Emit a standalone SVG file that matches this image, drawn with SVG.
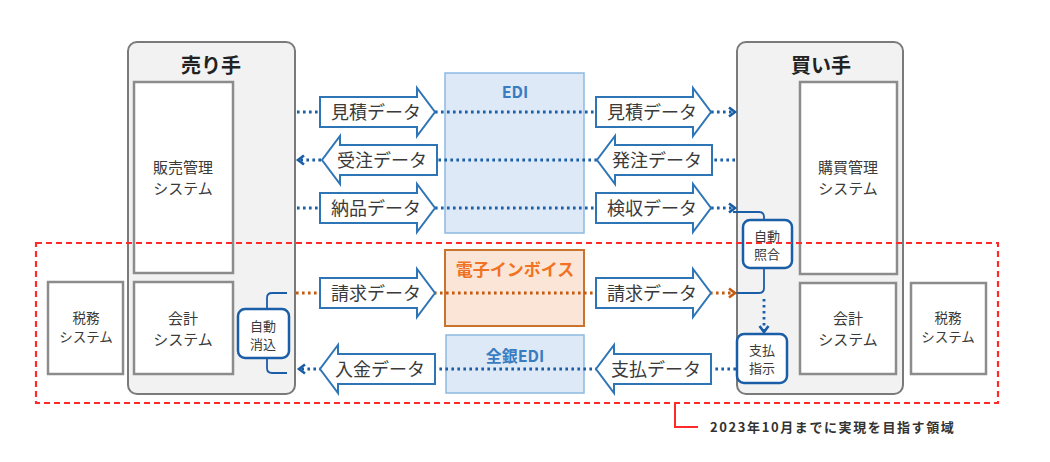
<svg xmlns="http://www.w3.org/2000/svg" xmlns:xlink="http://www.w3.org/1999/xlink" width="1050" height="462" viewBox="0 0 1050 462">
<style>
text{font-family:"Noto Sans CJK JP","Noto Sans",sans-serif;fill:#3a3a3a;text-anchor:middle}
.party{fill:#f2f2f2;stroke:#7a7a7a;stroke-width:2}
.sys{fill:#fff;stroke:#8c8c8c;stroke-width:2.5}
.title{font-size:20px;font-weight:bold;fill:#222}
.st{font-size:15px}
.sm{font-size:13.5px}
.au{font-size:13px}
.auto{fill:#fff;stroke:#1a5ea8;stroke-width:2.5}
.br{fill:none;stroke:#1a5ea8;stroke-width:1.8}
.blk{fill:#fff;stroke:#2e75b6;stroke-width:2}
.lbl{font-size:18px}
.dotb{fill:none;stroke:#1a5ea8;stroke-width:2.8;stroke-dasharray:2.6 3.4}
.doto{fill:none;stroke:#c55a11;stroke-width:2.8;stroke-dasharray:2.6 3.4}
.edi{fill:#dde9f6;stroke:#8db9e2;stroke-width:1.5}
.edit{font-size:16px;font-weight:bold;fill:#3a7cc2}
</style>
<defs>
<path id="ra" d="M0,-15 H97 V-24 L115,0 L97,24 V15 H0 Z"/>
<path id="la" d="M115,-15 H18 V-24 L0,0 L18,24 V15 H115 Z"/>
<marker id="mb" markerUnits="userSpaceOnUse" markerWidth="12" markerHeight="12" refX="8" refY="6" orient="auto">
<path d="M2,1.5 L8,6 L2,10.5" fill="none" stroke="#1a5ea8" stroke-width="2.6"/>
</marker>
<marker id="mo" markerUnits="userSpaceOnUse" markerWidth="12" markerHeight="12" refX="8" refY="6" orient="auto">
<path d="M2,1.5 L8,6 L2,10.5" fill="none" stroke="#c55a11" stroke-width="2.6"/>
</marker>
</defs>

<g id="seller">
<rect class="party" x="128" y="42" width="167" height="352" rx="9"/>
<text class="title" x="211" y="73">売り手</text>
</g>
<g id="sales-system">
<rect class="sys" x="134" y="82" width="99" height="191"/>
<text class="st" x="183" y="173">販売管理</text>
<text class="st" x="183" y="194">システム</text>
</g>
<g id="seller-accounting">
<rect class="sys" x="134" y="282" width="99" height="92"/>
<text class="st" x="183" y="324">会計</text>
<text class="st" x="183" y="345">システム</text>
</g>
<g id="seller-tax">
<rect class="sys" x="48" y="282" width="75" height="92"/>
<text class="sm" x="86" y="323">税務</text>
<text class="sm" x="86" y="342">システム</text>
</g>
<g id="auto-clear">
<path class="br" d="M287,293 H272 Q267,293 267,298 V309"/>
<path class="br" d="M287,373 H272 Q267,373 267,368 V358"/>
<rect class="auto" x="238" y="309" width="51" height="49" rx="7"/>
<text class="au" x="263" y="331">自動</text>
<text class="au" x="263" y="349">消込</text>
</g>

<g id="buyer">
<rect class="party" x="737" y="42" width="166" height="352" rx="9"/>
<text class="title" x="821" y="73">買い手</text>
</g>
<g id="purchase-system">
<rect class="sys" x="800" y="82" width="97" height="192"/>
<text class="st" x="848" y="173">購買管理</text>
<text class="st" x="848" y="194">システム</text>
</g>
<g id="buyer-accounting">
<rect class="sys" x="800" y="283" width="96" height="91"/>
<text class="st" x="848" y="324">会計</text>
<text class="st" x="848" y="345">システム</text>
</g>
<g id="buyer-tax">
<rect class="sys" x="911" y="283" width="75" height="91"/>
<text class="sm" x="948" y="323">税務</text>
<text class="sm" x="948" y="342">システム</text>
</g>
<g id="auto-match">
<path class="br" d="M733,212 H759 Q764,212 764,217 V220"/>
<path class="br" d="M733,293 H759 Q764,293 764,288 V268"/>
<rect class="auto" x="743" y="220" width="49" height="48" rx="7"/>
<text class="au" x="767" y="241">自動</text>
<text class="au" x="767" y="259">照合</text>
</g>
<g id="pay-instruction">
<rect class="auto" x="737" y="334" width="50" height="49" rx="7"/>
<text class="au" x="762" y="355">支払</text>
<text class="au" x="762" y="373">指示</text>
</g>

<g id="edi">
<rect class="edi" x="445" y="73" width="139" height="160"/>
<text class="edit" x="515" y="98">EDI</text>
</g>
<g id="e-invoice">
<rect x="445" y="250" width="139" height="76" fill="#fbe5d6" stroke="#c8732f" stroke-width="2"/>
<text x="515" y="276" style="font-size:17px;font-weight:bold;fill:#f07222">電子インボイス</text>
</g>
<g id="zengin-edi">
<rect class="edi" x="446" y="335" width="138" height="58"/>
<text class="edit" x="515" y="362">全銀EDI</text>
</g>

<g id="connectors">
<line class="dotb" x1="297" y1="112" x2="735" y2="112" marker-end="url(#mb)"/>
<line class="dotb" x1="735" y1="160" x2="298" y2="160" marker-end="url(#mb)"/>
<line class="dotb" x1="297" y1="208" x2="735" y2="208" marker-end="url(#mb)"/>
<line class="doto" x1="296" y1="293" x2="735" y2="293" marker-end="url(#mo)"/>
<line class="dotb" x1="736" y1="369" x2="299" y2="369" marker-end="url(#mb)"/>
<line class="dotb" x1="764" y1="299" x2="764" y2="332" marker-end="url(#mb)"/>
</g>

<g id="arrows">
<use href="#ra" xlink:href="#ra" class="blk" x="320" y="112"/>
<text class="lbl" x="376" y="119">見積データ</text>
<use href="#la" xlink:href="#la" class="blk" x="322" y="160"/>
<text class="lbl" x="382" y="167">受注データ</text>
<use href="#ra" xlink:href="#ra" class="blk" x="320" y="208"/>
<text class="lbl" x="376" y="215">納品データ</text>
<use href="#ra" xlink:href="#ra" class="blk" x="320" y="293"/>
<text class="lbl" x="376" y="300">請求データ</text>
<use href="#la" xlink:href="#la" class="blk" x="320" y="369"/>
<text class="lbl" x="380" y="376">入金データ</text>

<use href="#ra" xlink:href="#ra" class="blk" x="596" y="112"/>
<text class="lbl" x="652" y="119">見積データ</text>
<use href="#la" xlink:href="#la" class="blk" x="597" y="160"/>
<text class="lbl" x="657" y="167">発注データ</text>
<use href="#ra" xlink:href="#ra" class="blk" x="596" y="208"/>
<text class="lbl" x="652" y="215">検収データ</text>
<use href="#ra" xlink:href="#ra" class="blk" x="596" y="293"/>
<text class="lbl" x="652" y="300">請求データ</text>
<use href="#la" xlink:href="#la" class="blk" x="596" y="369"/>
<text class="lbl" x="656" y="376">支払データ</text>
</g>

<g id="target-area">
<rect x="36" y="243" width="962" height="160" fill="none" stroke="#ff2a2a" stroke-width="2.2" stroke-dasharray="6 4"/>
<path d="M675,403 V427 H698" fill="none" stroke="#ff2a2a" stroke-width="2"/>
<text x="710" y="432" style="font-size:13px;font-weight:bold;text-anchor:start;fill:#333;letter-spacing:1.6px">2023年10月までに実現を目指す領域</text>
</g>
</svg>
